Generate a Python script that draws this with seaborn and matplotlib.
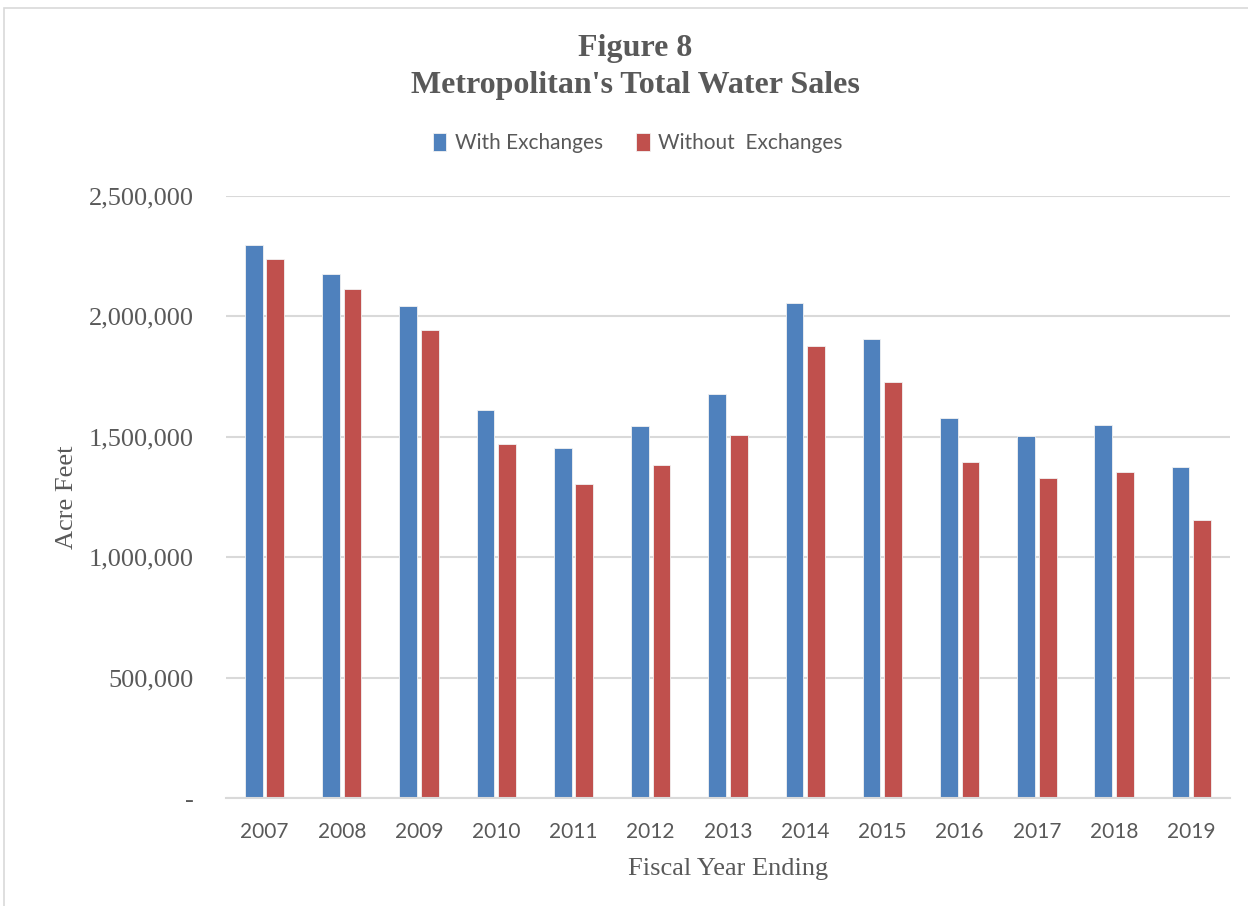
import matplotlib
matplotlib.use("Agg")
import matplotlib.pyplot as plt
import matplotlib.ticker as mticker
from matplotlib.patches import Rectangle
import seaborn as sns
import pandas as pd

# values (acre feet)
years = ["2007", "2008", "2009", "2010", "2011", "2012", "2013",
         "2014", "2015", "2016", "2017", "2018", "2019"]
with_exchanges = [2295000, 2174000, 2042000, 1612000, 1455000, 1543000, 1678000,
                  2056000, 1904000, 1577000, 1502000, 1548000, 1373000]
without_exchanges = [2239000, 2112000, 1944000, 1470000, 1303000, 1381000, 1508000,
                     1879000, 1727000, 1397000, 1327000, 1354000, 1153000]
series = ["With Exchanges", "Without  Exchanges"]

df = pd.DataFrame({
    "year": years * 2,
    "sales": with_exchanges + without_exchanges,
    "series": [series[0]] * len(years) + [series[1]] * len(years),
})

sns.set_theme(style="white")
grey = "#595959"

fig = plt.figure(figsize=(12.48, 9.06), dpi=100)
ax = fig.add_axes([0.181, 0.1192, 0.8046, 0.6645])

sns.barplot(data=df, x="year", y="sales", hue="series", ax=ax,
            palette=["#4F81BD", "#C0504D"], width=0.56, gap=0.18,
            edgecolor="#f2f2f2", linewidth=0.6, saturation=1)

ax.set_ylim(0, 2500000)
ax.set_xlim(-0.5, len(years) - 0.5)
ax.yaxis.set_major_locator(mticker.MultipleLocator(500000))
ax.yaxis.set_major_formatter(mticker.FuncFormatter(
    lambda v, p: "-" if v == 0 else f"{v:,.0f}"))
ax.grid(axis="y", color="#d9d9d9", linewidth=1.5)
ax.set_axisbelow(True)
for side in ["left", "right", "top"]:
    ax.spines[side].set_visible(False)
ax.spines["bottom"].set_color("#d9d9d9")
ax.spines["bottom"].set_linewidth(1.5)
ax.tick_params(axis="both", length=0, colors=grey)
ax.tick_params(axis="y", pad=23)
ax.tick_params(axis="x", pad=17)
for t in ax.get_yticklabels():
    t.set_fontfamily("Liberation Serif")
    t.set_fontsize(19)
for t in ax.get_xticklabels():
    t.set_fontfamily("Lato")
    t.set_fontsize(15)

ax.set_ylabel("Acre Feet", family="Liberation Serif", fontsize=19, color=grey, labelpad=8)
ax.set_xlabel("Fiscal Year Ending", family="Liberation Serif", fontsize=19, color=grey, labelpad=12)

ax.legend_.remove()
handles, labels = ax.get_legend_handles_labels()
leg = fig.legend(handles, labels, loc="center", bbox_to_anchor=(0.511, 0.842), ncol=2,
                 frameon=False, handlelength=0.65, handleheight=0.9, handletextpad=0.4,
                 columnspacing=1.6, prop={"family": "Lato", "size": 15})
for t in leg.get_texts():
    t.set_color(grey)

fig.text(0.509, 0.947, "Figure 8", ha="center", va="center", family="Liberation Serif",
         fontsize=23, fontweight="bold", color=grey)
fig.text(0.509, 0.906, "Metropolitan's Total Water Sales", ha="center", va="center",
         family="Liberation Serif", fontsize=23, fontweight="bold", color=grey)

fig.patches.append(Rectangle((0.0035, -0.01), 1.0, 1.001, transform=fig.transFigure,
                             fill=False, edgecolor="#d9d9d9", linewidth=1.2))

fig.savefig("out.png", dpi=100)
